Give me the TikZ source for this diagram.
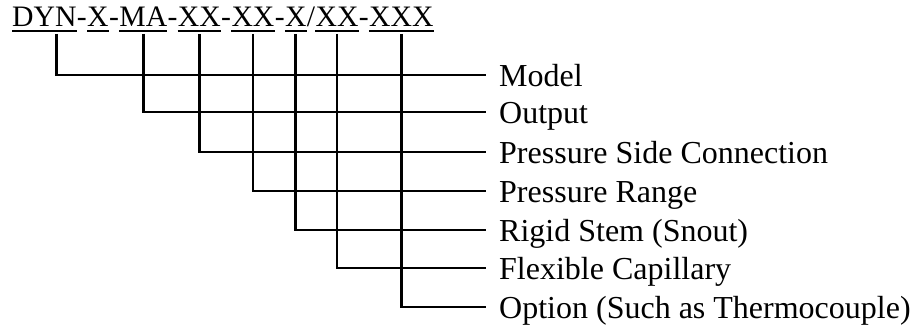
\documentclass[tikz,border=0pt]{standalone}
\usepackage{fontspec}
\setmainfont{Liberation Serif}
\usetikzlibrary{positioning}

\tikzset{
  field/.style={inner sep=0pt,font=\fontsize{29.7}{36}\selectfont},
  lbl/.style={inner sep=0pt,anchor=base west,font=\fontsize{32}{38}\selectfont},
  wire/.style={line width=2.8pt},
  uline/.style={line width=1.4pt}
}

\begin{document}
\begin{tikzpicture}[x=1pt,y=-1pt]
            \useasboundingbox (0,0) rectangle (915,329);
            % part number
            \node[field,anchor=base west] (f1) at (12,27) {DYN};
            \node[field,base right=0pt of f1] (h1) {-};
            \node[field,base right=0pt of h1] (f2) {X};
            \node[field,base right=0pt of f2] (h2) {-};
            \node[field,base right=0pt of h2] (f3) {MA};
            \node[field,base right=0pt of f3] (h3) {-};
            \node[field,base right=0pt of h3] (f4) {XX};
            \node[field,base right=0pt of f4] (h4) {-};
            \node[field,base right=0pt of h4] (f5) {XX};
            \node[field,base right=0pt of f5] (h5) {-};
            \node[field,base right=0pt of h5] (f6) {X};
            \node[field,base right=0pt of f6] (h6) {/};
            \node[field,base right=0pt of h6] (f7) {XX};
            \node[field,base right=0pt of f7] (h7) {-};
            \node[field,base right=0pt of h7] (f8) {XXX};
            \foreach \f in {f1,f2,f3,f4,f5,f6,f7,f8}
              \draw[uline] ([yshift=-4pt]\f.base west) -- ([yshift=-4pt]\f.base east);

            % ends of the rows
            \coordinate (e1) at (486,75);
            \coordinate (e2) at (486,112);
            \coordinate (e3) at (486,152);
            \coordinate (e4) at (486,191);
            \coordinate (e5) at (486,230);
            \coordinate (e6) at (486,268);
            \coordinate (e7) at (486,307);

            \draw[wire] ([xshift=12pt,yshift=-7pt]f1.base) |- (e1);
            \draw[wire] ([yshift=-7pt]f3.base) |- (e2);
            \draw[wire] ([yshift=-7pt]f4.base) |- (e3);
            \draw[wire] ([yshift=-7pt]f5.base) |- (e4);
            \draw[wire] ([yshift=-7pt]f6.base) |- (e5);
            \draw[wire] ([yshift=-7pt]f7.base) |- (e6);
            \draw[wire] ([yshift=-7pt]f8.base) |- (e7);

            % meanings
            \node[lbl] (model) at (499,86.5) {Model};
            \node[lbl] (output) at (499,123.5) {Output};
            \node[lbl] (conn) at (499,163.5) {Pressure Side Connection};
            \node[lbl] (range) at (499,202.5) {Pressure Range};
            \node[lbl] (stem) at (499,241.5) {Rigid Stem (Snout)};
            \node[lbl] (capil) at (499,279.5) {Flexible Capillary};
            \node[lbl] (option) at (499,318.5) {Option (Such as Thermocouple)};
\end{tikzpicture}
\end{document}
